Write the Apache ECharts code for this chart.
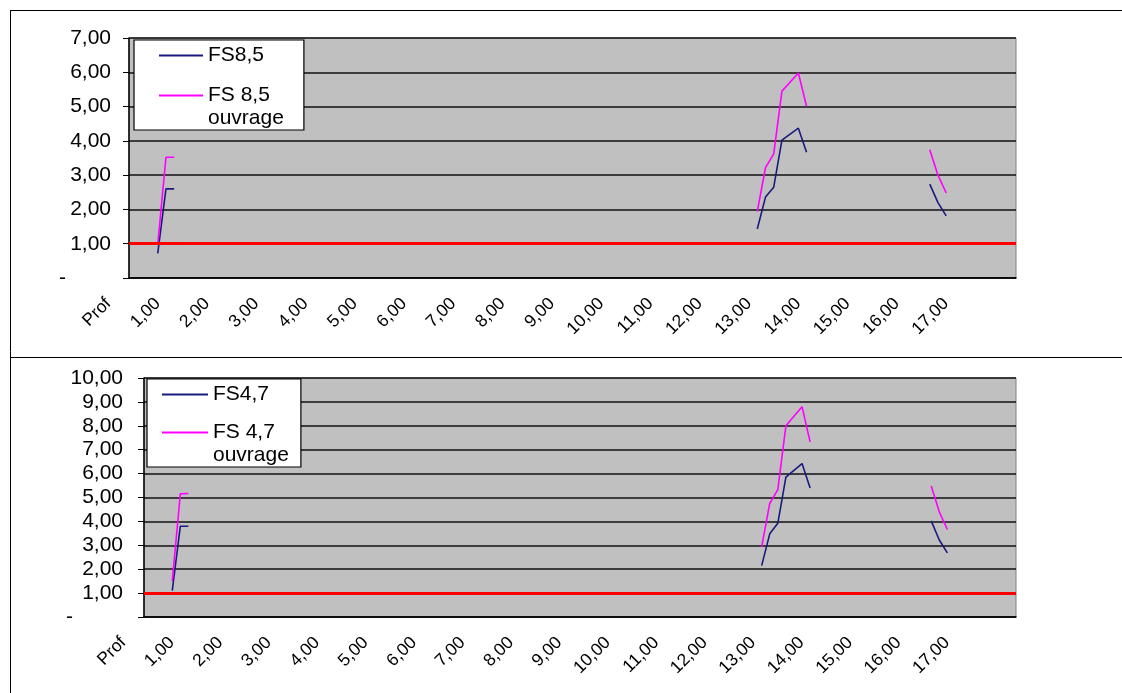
<!DOCTYPE html>
<html>
<head>
<meta charset="utf-8">
<script src="https://cdn.jsdelivr.net/npm/echarts@6/dist/echarts.min.js"></script>
<style>
html,body{margin:0;padding:0;background:#fff;}
#chart{width:1122px;height:693px;}
</style>
</head>
<body>
<div id="chart"></div>
<script>
// Category axis (depth), a label is shown every 6th category
const depthLabels = [
 "Prof","0,17","0,33","0,50","0,67","0,83",
 "1,00","1,17","1,33","1,50","1,67","1,83",
 "2,00","2,17","2,33","2,50","2,67","2,83",
 "3,00","3,17","3,33","3,50","3,67","3,83",
 "4,00","4,17","4,33","4,50","4,67","4,83",
 "5,00","5,17","5,33","5,50","5,67","5,83",
 "6,00","6,17","6,33","6,50","6,67","6,83",
 "7,00","7,17","7,33","7,50","7,67","7,83",
 "8,00","8,17","8,33","8,50","8,67","8,83",
 "9,00","9,17","9,33","9,50","9,67","9,83",
 "10,00","10,17","10,33","10,50","10,67","10,83",
 "11,00","11,17","11,33","11,50","11,67","11,83",
 "12,00","12,17","12,33","12,50","12,67","12,83",
 "13,00","13,17","13,33","13,50","13,67","13,83",
 "14,00","14,17","14,33","14,50","14,67","14,83",
 "15,00","15,17","15,33","15,50","15,67","15,83",
 "16,00","16,17","16,33","16,50","16,67","16,83",
 "17,00","17,17","17,33","17,50","17,67","17,83"
];

// Depths at which values exist (null entries break the line between groups)
const pointDepths = [
 "0,50","0,67","0,83","1,00",
 "12,67","12,83","13,00","13,17","13,50","13,67","14,00",
 "16,17","16,33","16,50"
];

// Top chart
const fs85         = [0.72, 2.60, 2.60, null, 1.43, 2.36, 2.65, 4.02, 4.37, 3.67, null, 2.74, 2.20, 1.81];
const fs85Ouvrage  = [0.98, 3.52, 3.52, null, 1.94, 3.22, 3.62, 5.45, 5.98, 5.01, null, 3.74, 3.00, 2.48];
// Bottom chart
const fs47         = [1.10, 3.80, 3.80, null, 2.15, 3.48, 3.92, 5.85, 6.42, 5.40, null, 4.02, 3.22, 2.68];
const fs47Ouvrage  = [1.50, 5.15, 5.17, null, 2.93, 4.75, 5.33, 8.00, 8.80, 7.33, null, 5.48, 4.40, 3.66];

const threshold = 1;
const topYMax = 7, bottomYMax = 10;

const seriesNames = ["FS8,5", "FS 8,5 ouvrage", "FS4,7", "FS 4,7 ouvrage"];

function pairs(vals){ return pointDepths.map((d,i)=>[d, vals[i]]); }

const FONT = "Liberation Sans, Arial, sans-serif";
const BLUE = "#1a1a7e", PINK = "#ff00ff";

function yLabel(dashWidth){
  return {
    color:"#000", fontFamily:FONT, fontSize:21,
    formatter: v => v === 0 ? "{d|-}" : v.toFixed(2).replace(".", ","),
    rich:{ d:{ width:dashWidth, align:"left", fontSize:21, fontFamily:FONT, color:"#000" } }
  };
}
function xAxisDef(gi){
  return {
    type:"category", gridIndex:gi, data:depthLabels, boundaryGap:true,
    axisLine:{ lineStyle:{ color:"#000", width:1.5 } },
    axisTick:{ interval:0, length:5, lineStyle:{ color:"#000", width:1 } },
    axisLabel:{
      interval:5, rotate:45, margin:8,
      formatter: v => "{a|" + v + "}",
      rich:{ a:{ fontFamily:FONT, fontSize:17.5, color:"#000", padding:[0,28,14,0] } }
    },
    splitLine:{ show:false }
  };
}
function yAxisDef(gi, max, lm, dw){
  const l = yLabel(dw); l.margin = lm;
  return {
    type:"value", gridIndex:gi, min:0, max:max, interval:1,
    axisLine:{ show:true, lineStyle:{ color:"#000", width:1.5 } },
    axisTick:{ show:true, length:6, lineStyle:{ color:"#000" } },
    axisLabel:l,
    splitLine:{ show:true, lineStyle:{ color:"#111", width:1.5 } }
  };
}
function lineSeries(name, vals, color, gi, withThreshold){
  const s = {
    name:name, type:"line", xAxisIndex:gi, yAxisIndex:gi,
    data:pairs(vals), symbol:"none", showSymbol:false, connectNulls:false,
    lineStyle:{ color:color, width:1.6 }, itemStyle:{ color:color }, z:3
  };
  if(withThreshold){
    s.markLine = { silent:true, symbol:"none", label:{ show:false },
      lineStyle:{ color:"#ff0000", width:3, type:"solid" },
      data:[{ yAxis:threshold }] };
  }
  return s;
}
function legendDef(names, left, top, padL, padR, itemW, gap){
  return {
    orient:"vertical", left:left, top:top, padding:[4,padR,0,padL],
    backgroundColor:"#fff", borderColor:"#000", borderWidth:1.2, borderRadius:0,
    itemWidth:itemW, itemHeight:14, itemGap:gap,
    itemStyle:{ opacity:0 },
    textStyle:{ fontFamily:FONT, fontSize:21, color:"#000", lineHeight:23 },
    // blank first line so that the first text line sits on the line sample
    formatter: n => n.indexOf(" ouvrage") >= 0 ? "\n" + n.replace(" ouvrage", "\nouvrage") : n,
    data:[ { name:names[0] }, { name:names[1] } ]
  };
}

const chart = echarts.init(document.getElementById("chart"), null, { renderer:"canvas" });
chart.setOption({
  animation:false,
  backgroundColor:"#fff",
  grid:[
    { left:129, top:38, right:106, height:240, show:true, backgroundColor:"#c0c0c0", borderColor:"#808080", borderWidth:1 },
    { left:144, top:378, right:106, height:239, show:true, backgroundColor:"#c0c0c0", borderColor:"#808080", borderWidth:1 }
  ],
  xAxis:[ xAxisDef(0), xAxisDef(1) ],
  yAxis:[ yAxisDef(0, topYMax, 18, 52), yAxisDef(1, bottomYMax, 21, 57) ],
  legend:[
    legendDef([seriesNames[0], seriesNames[1]], 134, 40, 24, 20, 44, -6),
    legendDef([seriesNames[2], seriesNames[3]], 147, 379, 14, 12, 46, -8)
  ],
  series:[
    lineSeries(seriesNames[0], fs85, BLUE, 0, true),
    lineSeries(seriesNames[1], fs85Ouvrage, PINK, 0, false),
    lineSeries(seriesNames[2], fs47, BLUE, 1, true),
    lineSeries(seriesNames[3], fs47Ouvrage, PINK, 1, false)
  ],
  graphic:[
    { type:"line", silent:true, shape:{ x1:10, y1:10.5, x2:1122, y2:10.5 }, style:{ stroke:"#000", lineWidth:1 } },
    { type:"line", silent:true, shape:{ x1:10.5, y1:10, x2:10.5, y2:693 }, style:{ stroke:"#000", lineWidth:1 } },
    { type:"line", silent:true, shape:{ x1:10, y1:357.5, x2:1122, y2:357.5 }, style:{ stroke:"#000", lineWidth:1 } }
  ]
});
</script>
</body>
</html>
